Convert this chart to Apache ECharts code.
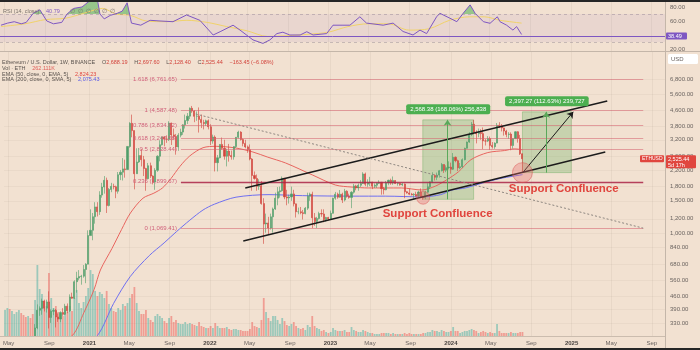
<!DOCTYPE html>
<html>
<head>
<meta charset="utf-8">
<script src="https://cdn.jsdelivr.net/npm/echarts@6.0.0/dist/echarts.min.js"></script>
<style>
  html, body { margin: 0; padding: 0; background: #f2e1d1; }
  #chart { width: 700px; height: 350px; }
</style>
</head>
<body>
<div id="chart"></div>
<script>
// ETH/USD weekly candles (Binance), weeks starting Monday 2020-04-20
const FIRST_WEEK = '2020-04-20';
const FIRST_OPEN = 171;
const closes = [
  194,207,187,199,206,231,245,234,229,225,
  241,240,239,310,386,395,433,396,428,353,
  381,385,355,346,375,367,406,383,455,448,
  550,575,586,589,640,684,975,1041,1232,1391,
  1312,1611,1780,1935,1416,1727,1795,1786,1690,2075,
  2140,2230,2210,2945,3925,3585,2100,2430,2630,2500,
  2240,1975,2320,2040,1895,2190,2610,3010,3310,3230,
  3225,3935,3400,3330,2930,3390,3520,3850,4060,4290,
  4730,4570,4280,4290,4120,3960,3920,4050,3760,3150,
  3310,2410,2560,3020,2880,2610,2780,2630,2590,2940,
  3300,3520,3210,3060,2930,2830,2520,2055,1980,1795,
  1810,1450,1125,1140,1070,1230,1355,1550,1680,1700,
  1985,1575,1555,1575,1635,1445,1310,1310,1295,1280,
  1370,1590,1630,1215,1160,1205,1280,1275,1190,1220,
  1200,1285,1550,1630,1570,1630,1515,1690,1590,1565,
  1670,1805,1760,1820,1860,2095,1845,1880,1895,1800,
  1820,1865,1890,1745,1720,1875,1935,1870,1930,1860,
  1860,1830,1850,1680,1655,1630,1615,1625,1595,1675,
  1580,1560,1670,1785,1900,2055,2010,2065,2180,2355,
  2195,2265,2280,2220,2575,2470,2260,2290,2500,2880,
  3110,3420,3880,3520,3450,3505,3455,3155,3150,3250,
  2985,2935,3070,3830,3780,3705,3565,3420,3435,2980,
  3245,3535,3255,2688.19,2525.44
];
const highs = [
  199,227,215,215,212,245,252,248,236,235,
  246,250,243,325,415,405,446,440,440,488,
  390,395,392,371,381,396,418,420,470,480,
  560,622,635,599,676,692,1040,1350,1290,1475,
  1475,1690,1875,2040,2000,1760,1875,1855,1810,2145,
  2200,2550,2500,2950,3980,4372,3590,2880,2890,2860,
  2620,2260,2400,2410,2060,2250,2640,3180,3330,3335,
  3380,4030,3960,3680,3440,3475,3670,3880,4375,4460,
  4780,4870,4620,4550,4780,4380,4100,4110,4120,3880,
  3410,3380,2650,3030,3290,3200,2860,3040,2800,2950,
  3310,3580,3560,3250,3200,2980,3020,2550,2160,2080,
  1960,1920,1550,1280,1230,1280,1380,1660,1780,1790,
  2030,1990,1720,1620,1790,1720,1450,1380,1390,1340,
  1390,1660,1660,1680,1290,1230,1310,1350,1350,1230,
  1230,1330,1560,1675,1660,1715,1660,1740,1710,1640,
  1690,1850,1830,1860,1940,2140,2130,1960,2020,1900,
  1860,1880,1935,1890,1780,1920,1950,1975,2030,1940,
  1880,1870,1870,1860,1690,1745,1655,1650,1680,1700,
  1750,1600,1700,1865,1910,2140,2085,2130,2200,2400,
  2360,2330,2450,2410,2715,2600,2500,2400,2540,2900,
  3130,3520,3990,4095,3600,3680,3650,3730,3230,3350,
  3330,3110,3100,3940,3980,3890,3720,3620,3520,3510,
  3260,3560,3560,3400,2697.60
];
const lows = [
  165,193,159,185,195,198,225,224,221,215,
  222,235,228,234,305,360,365,380,375,308,
  330,363,312,334,333,360,364,372,378,445,
  444,480,560,530,578,540,683,975,920,1130,
  1236,1260,1560,1640,1290,1400,1670,1730,1550,1640,
  1940,1930,2000,2200,2900,3300,1730,2100,2400,2300,
  2040,1700,1960,1990,1840,1720,2150,2450,2980,2950,
  3080,3150,3000,3200,2660,2790,3300,3400,3680,3890,
  4140,4470,3980,4050,3500,3700,3640,3800,3640,3000,
  3050,2160,2160,2540,2830,2500,2300,2440,2500,2500,
  2890,3250,3170,2950,2880,2720,2480,1700,1950,1700,
  1720,1430,880,1010,990,1050,1010,1340,1420,1560,
  1680,1530,1420,1450,1500,1400,1220,1270,1270,1190,
  1270,1340,1500,1070,1100,1070,1190,1230,1150,1160,
  1180,1190,1280,1520,1540,1560,1460,1490,1560,1540,
  1370,1640,1710,1700,1780,1850,1800,1785,1800,1735,
  1760,1760,1850,1620,1625,1710,1820,1830,1830,1850,
  1810,1810,1800,1550,1640,1610,1605,1530,1580,1570,
  1560,1520,1530,1660,1745,1870,1930,1940,2000,2160,
  2120,2140,2215,2100,2200,2420,2170,2220,2260,2480,
  2870,3080,3350,3420,3060,3300,3200,2850,2980,3110,
  2820,2870,2860,3060,3700,3550,3370,3300,3240,2810,
  2870,3230,3090,2650,2128.40
];
// weekly volume, thousands of ETH
const volumesK = [
  1700,1835,1770,1640,1440,1570,1700,1505,1375,1245,1310,1180,1440,
  2360,4650,3080,2750,2290,1965,4125,2490,
  1835,1965,1570,1440,1310,1700,1570,1965,1640,2490,
  3015,2160,1835,2225,2620,3145,4320,4060,2950,2620,
  2880,2750,2490,2950,2095,1835,1640,1570,1835,1700,
  2095,1965,2160,2490,2750,3210,2160,1640,1440,1440,
  1700,1180,1050,915,1310,1440,1310,1180,980,850,
  1180,1310,915,1050,850,785,785,915,785,850,
  785,720,655,915,655,590,525,525,655,525,
  850,655,525,525,525,590,460,395,460,460,
  395,395,330,330,330,460,915,655,590,525,
  1050,2490,1570,1180,980,1310,1310,1050,785,1180,
  980,720,655,785,915,655,525,460,525,395,
  720,590,1310,655,525,460,330,395,262,195,
  262,525,395,330,330,330,395,262,262,590,
  395,330,262,262,395,330,262,195,195,130,
  130,130,195,195,195,195,130,195,130,130,
  130,130,195,130,195,130,130,130,130,130,
  195,195,262,262,395,330,330,262,395,330,
  262,262,330,590,330,330,195,262,330,330,
  395,460,395,330,195,262,330,262,195,262,
  195,195,785,330,195,195,195,195,262,195,
  195,195,262,262.111
];

// EMA (50) and EMA (200, SMA-smoothed) traces
const ema50Points = [
  ['2020-09-01',240],['2020-11-10',282],['2020-12-15',375],['2021-01-15',500],
  ['2021-02-03',636],['2021-03-10',830],['2021-04-08',1050],['2021-05-05',1290],
  ['2021-06-12',1550],['2021-07-15',1650],['2021-08-10',1760],['2021-09-05',1980],
  ['2021-10-02',2300],['2021-11-01',2620],['2021-12-11',2900],['2022-01-20',2950],
  ['2022-03-20',2890],['2022-05-11',2750],['2022-06-25',2580],['2022-08-18',2400],
  ['2022-11-08',2066],['2023-01-16',1826],['2023-03-07',1780],['2023-04-27',1760],
  ['2023-08-05',1760],['2023-10-05',1716],['2023-11-15',1800],['2023-12-20',1950],
  ['2024-01-24',2150],['2024-03-02',2500],['2024-04-22',2730],['2024-06-12',2800],
  ['2024-07-12',2860],['2024-08-05',2824.23]
];
const ema200Points = [
  ['2020-11-20',230],['2021-01-25',282],['2021-03-15',420],['2021-05-04',585],
  ['2021-07-01',760],['2021-08-15',890],['2021-09-21',1022],['2021-11-01',1180],
  ['2021-12-11',1339],['2022-01-15',1440],['2022-03-21',1570],['2022-06-29',1620],
  ['2022-10-08',1600],['2023-03-07',1590],['2023-06-16',1590],['2023-10-07',1575],
  ['2023-12-01',1620],['2024-01-05',1716],['2024-02-14',1760],['2024-04-01',1860],
  ['2024-05-29',1978],['2024-08-05',2075.43]
];

// RSI (14) and its moving average
const rsiPoints = [
  ['2020-04-20',54],['2020-05-10',57],['2020-05-30',59],['2020-06-20',56],['2020-07-05',58],
  ['2020-07-26',71],['2020-08-15',76],['2020-09-05',60],['2020-09-25',56],['2020-10-20',58],
  ['2020-11-05',70],['2020-11-25',78],['2020-12-20',80],['2021-01-10',88],['2021-02-05',89],
  ['2021-02-12',70],['2021-02-25',63],['2021-03-15',68],['2021-04-05',71],['2021-04-20',74],
  ['2021-05-05',86],['2021-05-18',57],['2021-06-15',54],['2021-07-13',61],['2021-08-12',60],
  ['2021-09-20',59],['2021-10-31',68.6],['2021-12-10',61],['2022-01-19',40],['2022-02-09',44.7],
  ['2022-03-20',54],['2022-04-10',47],['2022-05-19',33],['2022-06-18',28],['2022-07-09',33],
  ['2022-07-30',42],['2022-08-17',44],['2022-09-07',40],['2022-10-08',40],['2022-10-28',44.7],
  ['2022-11-16',40],['2022-12-27',42],['2023-01-15',54],['2023-02-14',54],['2023-03-07',54],
  ['2023-04-06',66],['2023-04-26',57],['2023-06-15',54],['2023-07-15',57],['2023-08-14',45],
  ['2023-09-13',40],['2023-10-04',47],['2023-10-24',42],['2023-11-23',66],['2023-12-03',71],
  ['2024-01-02',64],['2024-01-23',59],['2024-02-11',71],['2024-03-03',83],['2024-03-18',71],
  ['2024-04-12',59],['2024-05-02',56.7],['2024-05-24',66],['2024-06-01',59],['2024-06-21',54],
  ['2024-07-10',47],['2024-07-21',52],['2024-08-05',40.79]
];
const rsiMaPoints = [
  ['2020-04-20',52],['2020-07-01',56],['2020-09-01',62],['2020-11-01',64],['2021-01-01',72],
  ['2021-02-20',78],['2021-04-01',70],['2021-05-15',68],['2021-07-01',60],['2021-09-01',59],
  ['2021-11-01',61],['2022-01-01',58],['2022-03-01',52],['2022-05-01',46],['2022-07-01',38],
  ['2022-09-01',39],['2022-11-01',41],['2023-01-01',44],['2023-03-01',52],['2023-05-01',56],
  ['2023-07-01',56],['2023-09-01',47],['2023-11-01',49],['2024-01-01',61],['2024-03-01',66],
  ['2024-04-15',66],['2024-06-01',61],['2024-08-05',57]
];
const rsiMarker = 38.49;

// axis ticks
const priceTicks = [330,390,460,560,680,840,1000,1200,1500,1800,2200,2600,3200,3800,4600,5600,6800];
const rsiTicks = [20,40,60,80];
const timeTicks = [
  '2020-05-01','2020-09-01','2021-01-01','2021-05-01','2021-09-01','2022-01-01','2022-05-01',
  '2022-09-01','2023-01-01','2023-05-01','2023-09-01','2024-01-01','2024-05-01','2024-09-01',
  '2025-01-01','2025-05-01','2025-09-01'
];

// Fibonacci retracement levels: [ratio, price]
const fibLevels = [[1.618,6761.65],[1,4587.48],[0.786,3834.62],[0.618,3243.58],
                   [0.5,2828.44],[0.382,2413.31],[0.236,1899.67],[0,1069.41]];
const fibSpan = ['2021-10-05','2025-08-06'];

// drawn trend lines: [[date, price], [date, price]]
const channelUpper = [['2022-04-18',1759],['2025-04-19',5175]];
const channelLower = [['2022-04-12',911],['2025-04-13',2748]];
const downTrend = [['2021-11-19',4405],['2025-08-06',1069]];
const projection = [['2024-08-06',2128.4],['2025-01-06',4525.67]];

// measured ranges: [startDate, endDate, low, high, label, arrow date]
const ranges = [
  ['2023-10-08','2024-03-10',1528.25,4096.63,'2,568.38 (168.06%) 256,838','2023-12-22'],
  ['2024-08-05','2024-12-31',2128.40,4525.67,'2,397.27 (112.63%) 239,727','2024-10-16']
];
const supportSpots = [['2023-10-09',1560,13],['2024-08-05',2128.4,20]];
const supportLabels = [['2023-11-22',1274],['2024-12-08',1737]];

const lastClose = 2525.44;

// ---------------------------------------------------------------
const DAY = 86400000;
const t = s => { const p = s.split('-').map(Number); return Date.UTC(p[0], p[1] - 1, p[2]); };
const fmt = v => v.toLocaleString('en-US', { minimumFractionDigits: 2, maximumFractionDigits: 2 });
const FONT = 'Liberation Sans, Arial, sans-serif';
const UP = '#4f9d69', DOWN = '#d2433b';
const BG = '#f2e1d1';

const t0 = t(FIRST_WEEK);
const weekTimes = closes.map((_, i) => t0 + i * 7 * DAY);
const opens = closes.map((c, i) => (i ? closes[i - 1] : FIRST_OPEN));
const candleData = closes.map((c, i) => [weekTimes[i], opens[i], c, lows[i], highs[i]]);
const volumeData = volumesK.map((v, i) => ({
  value: [weekTimes[i], v],
  itemStyle: { color: closes[i] >= opens[i] ? 'rgba(38,166,154,0.42)' : 'rgba(239,83,80,0.48)' }
}));
const pts = arr => arr.map(p => [t(p[0]), p[1]]);

const X_MIN = t('2020-04-17'), X_MAX = t('2025-10-11');
const monthNames = ['Jan','Feb','Mar','Apr','May','Jun','Jul','Aug','Sep','Oct','Nov','Dec'];
const timeTickValues = timeTicks.map(t);

const fibLines = fibLevels.map(([r, p]) => [
  {
    coord: [t(fibSpan[0]), p],
    lineStyle: {
      color: r === 0.236 ? 'rgba(170,35,70,0.85)' : 'rgba(214,98,112,0.55)',
      width: r === 0.236 ? 1.3 : 1.1,
      opacity: r === 0.382 ? 0 : 1,
      type: 'solid'
    },
    label: {
      show: true, position: 'start', distance: 4,
      formatter: r + ' (' + fmt(p) + ')',
      color: '#d0607a', fontSize: 6, fontFamily: FONT
    }
  },
  { coord: [t(fibSpan[1]), p] }
]);
const segment = (seg, style, endSymbol) => [
  { coord: [t(seg[0][0]), seg[0][1]], lineStyle: style, label: { show: false }, symbol: 'none' },
  { coord: [t(seg[1][0]), seg[1][1]], symbol: endSymbol || 'none', symbolSize: 6 }
];
const drawnLines = [
  ...fibLines,
  segment(channelUpper, { color: '#1b1b1b', width: 1.4, type: 'solid' }),
  segment(channelLower, { color: '#1b1b1b', width: 1.4, type: 'solid' }),
  segment(downTrend, { color: '#8d8680', width: 1, type: [2, 2] }),
  segment(projection, { color: '#1b1b1b', width: 1, type: 'solid' }, 'arrow'),
  ...ranges.map(r => segment([[r[5], r[2]], [r[5], r[3]]], { color: '#5aa85a', width: 1, type: 'solid' }, 'arrow'))
];
const rangeAreas = ranges.map(r => [
  { coord: [t(r[0]), r[2]], itemStyle: { color: 'rgba(110,180,100,0.32)', borderColor: 'rgba(90,165,80,0.45)', borderWidth: 0.8 } },
  { coord: [t(r[1]), r[3]] }
]);
const markers = [
  ...supportSpots.map(s => ({
    coord: [t(s[0]), s[1]], symbol: 'circle', symbolSize: s[2],
    itemStyle: { color: 'rgba(232,110,110,0.35)', borderColor: 'rgba(220,80,80,0.6)', borderWidth: 0.8 },
    label: { show: false }
  })),
  ...supportLabels.map(s => ({
    coord: [t(s[0]), s[1]], symbolSize: 0,
    label: { show: true, position: 'inside', formatter: 'Support Confluence', color: '#e0453e', fontSize: 11.5, fontWeight: 'bold', fontFamily: FONT }
  })),
  ...ranges.map(r => {
    const mid = (t(r[0]) + t(r[1])) / 2;
    return {
      coord: [mid, r[3] * 1.14], symbolSize: 0,
      label: { show: true, position: 'inside', formatter: r[4], color: '#ffffff', fontSize: 6, fontFamily: FONT,
               backgroundColor: '#4caf50', padding: [2, 4], borderRadius: 2 }
    };
  })
];

const chart = echarts.init(document.getElementById('chart'), null, { renderer: 'canvas' });

const dateLabel = v => {
  const d = new Date(v);
  const m = d.getUTCMonth();
  return m === 0 ? '{y|' + d.getUTCFullYear() + '}' : monthNames[m];
};

const option = {
  backgroundColor: BG,
  animation: false,
  textStyle: { fontFamily: FONT },
  grid: [
    { left: 0, right: 35, top: 0, height: 51 },
    { left: 0, right: 35, top: 52, height: 284 }
  ],
  xAxis: [
    {
      gridIndex: 0, type: 'value', min: X_MIN, max: X_MAX,
      axisLabel: { show: false }, axisLine: { show: false },
      axisTick: { show: false, customValues: timeTickValues },
      splitLine: { show: true, lineStyle: { color: 'rgba(120,100,90,0.08)', width: 1 } }
    },
    {
      gridIndex: 1, type: 'value', min: X_MIN, max: X_MAX, z: 20,
      axisLine: { show: true, onZero: false, lineStyle: { color: '#cbbcae' } },
      axisTick: { show: false, customValues: timeTickValues },
      splitLine: { show: true, lineStyle: { color: 'rgba(120,100,90,0.08)', width: 1 } },
      axisLabel: {
        customValues: timeTickValues, margin: 4, fontSize: 6, color: '#6b6460', fontFamily: FONT,
        formatter: dateLabel,
        rich: { y: { fontWeight: 'bold', fontSize: 6, color: '#4a4440', fontFamily: FONT } }
      }
    }
  ],
  yAxis: [
    {
      gridIndex: 0, type: 'value', min: 17.14, max: 90, position: 'right',
      axisLine: { show: true, lineStyle: { color: '#c4b6a9' } },
      axisTick: { show: false, customValues: rsiTicks },
      splitLine: { show: false },
      axisLabel: { customValues: rsiTicks, margin: 5, fontSize: 6, color: '#6b6460', fontFamily: FONT, formatter: v => v.toFixed(2) }
    },
    {
      gridIndex: 1, type: 'log', logBase: 10, min: 280.4, max: 9509, position: 'right',
      axisLine: { show: true, lineStyle: { color: '#c4b6a9' } },
      axisTick: { show: false, customValues: priceTicks },
      splitLine: { show: true, lineStyle: { color: 'rgba(120,100,90,0.06)' } },
      axisLabel: { customValues: priceTicks, margin: 5, fontSize: 6, color: '#6b6460', fontFamily: FONT, formatter: v => fmt(v) }
    },
    { gridIndex: 1, type: 'value', min: 0, max: 18600, show: false }
  ],
  visualMap: [{
    show: false, type: 'piecewise', seriesIndex: 0, dimension: 1,
    pieces: [
      { gt: 70, lte: 100, color: 'rgba(76,175,80,0.55)' },
      { gte: 0, lte: 70, color: 'rgba(76,175,80,0)' }
    ],
    outOfRange: { color: 'rgba(0,0,0,0)' }
  }],
  series: [
    {
      name: 'RSI overbought', type: 'line', xAxisIndex: 0, yAxisIndex: 0,
      data: pts(rsiPoints), showSymbol: false, silent: true,
      lineStyle: { width: 0 }, areaStyle: { origin: 70, opacity: 1 }
    },
    {
      name: 'RSI', type: 'line', xAxisIndex: 0, yAxisIndex: 0,
      data: pts(rsiPoints), showSymbol: false, silent: true,
      lineStyle: { color: '#7e57c2', width: 1 }, z: 4,
      markArea: {
        silent: true,
        itemStyle: { color: 'rgba(126,87,194,0.08)' },
        data: [[{ yAxis: 30 }, { yAxis: 70 }]]
      },
      markLine: {
        silent: true, symbol: ['none', 'none'], label: { show: false },
        data: [
          { yAxis: 70, lineStyle: { color: 'rgba(120,110,130,0.45)', type: [3, 3], width: 0.8 } },
          { yAxis: 30, lineStyle: { color: 'rgba(120,110,130,0.45)', type: [3, 3], width: 0.8 } },
          { yAxis: rsiMarker, lineStyle: { color: '#7e57c2', type: 'solid', width: 1 } }
        ]
      }
    },
    {
      name: 'RSI MA', type: 'line', xAxisIndex: 0, yAxisIndex: 0,
      data: pts(rsiMaPoints), showSymbol: false, silent: true, smooth: 0.3,
      lineStyle: { color: '#f0d26a', width: 1 }, z: 3
    },
    {
      name: 'Volume', type: 'bar', xAxisIndex: 1, yAxisIndex: 2,
      data: volumeData, barWidth: 1.8, silent: true, z: 1
    },
    {
      name: 'EMA 200', type: 'line', xAxisIndex: 1, yAxisIndex: 1,
      data: pts(ema200Points), showSymbol: false, silent: true, smooth: 0.3,
      lineStyle: { color: '#6f6ff0', width: 1 }, z: 3
    },
    {
      name: 'EMA 50', type: 'line', xAxisIndex: 1, yAxisIndex: 1,
      data: pts(ema50Points), showSymbol: false, silent: true, smooth: 0.3,
      lineStyle: { color: '#e8655f', width: 1 }, z: 3
    },
    {
      name: 'ETHUSD', type: 'candlestick', xAxisIndex: 1, yAxisIndex: 1,
      data: candleData, encode: { x: 0, y: [1, 2, 3, 4] }, barWidth: 1.6, clip: true, silent: true, z: 4,
      itemStyle: { color: UP, color0: DOWN, borderColor: UP, borderColor0: DOWN, borderWidth: 0.6 }
    },
    {
      name: 'Drawings', type: 'line', xAxisIndex: 1, yAxisIndex: 1,
      data: [], silent: true, z: 6,
      markArea: { silent: true, data: rangeAreas },
      markLine: { silent: true, symbol: ['none', 'none'], animation: false, data: drawnLines },
      markPoint: { silent: true, data: markers }
    }
  ],
  graphic: [
    // time-scale strip below the price pane (keeps out-of-range wicks off the labels)
    { type: 'rect', shape: { x: 0, y: 336.5, width: 665, height: 12 }, style: { fill: BG }, z: 15 },
    { type: 'rect', shape: { x: 0, y: 0, width: 700, height: 2 }, style: { fill: '#262626' }, z: 100 },
    { type: 'rect', shape: { x: 0, y: 348, width: 700, height: 2 }, style: { fill: '#262626' }, z: 100 },
    { type: 'line', shape: { x1: 0, y1: 51.5, x2: 700, y2: 51.5 }, style: { stroke: '#c4b6a9', lineWidth: 1 }, z: 50 },
    { type: 'line', shape: { x1: 0, y1: 336.5, x2: 665, y2: 336.5 }, style: { stroke: '#cbbcae', lineWidth: 1 }, z: 50 },
    { type: 'line', shape: { x1: 665.5, y1: 0, x2: 665.5, y2: 348 }, style: { stroke: '#c4b6a9', lineWidth: 1 }, z: 50 },
    {
      type: 'text', x: 3, y: 5, z: 60,
      style: {
        text: '{g|RSI (14, close)}  {p|40.79}   {g|∅  ∅  ∅  ∅  ∅  ∅}',
        rich: { g: { fill: '#7a726c', fontSize: 5.5, fontFamily: FONT }, p: { fill: '#7e57c2', fontSize: 5.5, fontFamily: FONT } }
      }
    },
    {
      type: 'text', x: 2, y: 56, z: 60,
      style: {
        text: '{g|Ethereum / U.S. Dollar, 1W, BINANCE}  {g|O}{r|2,688.19}  {g|H}{r|2,697.60}  {g|L}{r|2,128.40}  {g|C}{r|2,525.44}  {r|−163.45 (−6.08%)}',
        rich: { g: { fill: '#5a534e', fontSize: 5.5, fontFamily: FONT }, r: { fill: '#d2433b', fontSize: 5.5, fontFamily: FONT } }
      }
    },
    {
      type: 'text', x: 2, y: 62, z: 60,
      style: {
        text: '{g|Vol · ETH}  {r|262.111K}',
        rich: { g: { fill: '#5a534e', fontSize: 5.5, fontFamily: FONT }, r: { fill: '#e0605a', fontSize: 5.5, fontFamily: FONT } }
      }
    },
    {
      type: 'text', x: 2, y: 68, z: 60,
      style: {
        text: '{g|EMA (50, close, 0, EMA, 5)}  {r|2,824.23}',
        rich: { g: { fill: '#5a534e', fontSize: 5.5, fontFamily: FONT }, r: { fill: '#e0453e', fontSize: 5.5, fontFamily: FONT } }
      }
    },
    {
      type: 'text', x: 2, y: 73.5, z: 60,
      style: {
        text: '{g|EMA (200, close, 0, SMA, 5)}  {b|2,075.43}',
        rich: { g: { fill: '#5a534e', fontSize: 5.5, fontFamily: FONT }, b: { fill: '#5a5ae6', fontSize: 5.5, fontFamily: FONT } }
      }
    },
    { type: 'rect', shape: { x: 668, y: 54, width: 30, height: 10, r: 1.5 }, style: { fill: '#ffffff' }, z: 60 },
    { type: 'text', x: 671, y: 56, z: 61, style: { text: 'USD', fill: '#6b6460', fontSize: 6, fontFamily: FONT } }
  ]
};
chart.setOption(option);

// value tags on the price and RSI scales
const yPrice = chart.convertToPixel({ yAxisIndex: 1 }, lastClose);
const yRsi = chart.convertToPixel({ yAxisIndex: 0 }, rsiMarker);
chart.setOption({
  graphic: [
    { id: 'symTag', type: 'rect', shape: { x: 640, y: yPrice - 3.5, width: 24, height: 7, r: 1 }, style: { fill: '#e0463e' }, z: 70 },
    { id: 'symText', type: 'text', x: 642, y: yPrice - 2.5, z: 71, style: { text: 'ETHUSD', fill: '#ffffff', fontSize: 5, fontFamily: FONT } },
    { id: 'priceTag', type: 'rect', shape: { x: 666, y: yPrice - 3.5, width: 30, height: 13, r: 1 }, style: { fill: '#e0463e' }, z: 70 },
    { id: 'priceText', type: 'text', x: 668, y: yPrice - 2.5, z: 71, style: { text: fmt(lastClose) + '\n5d 17h', fill: '#ffffff', fontSize: 5.5, lineHeight: 6, fontFamily: FONT } },
    { id: 'rsiTag', type: 'rect', shape: { x: 666, y: yRsi - 3.5, width: 21, height: 7, r: 1 }, style: { fill: '#7e57c2' }, z: 70 },
    { id: 'rsiText', type: 'text', x: 668, y: yRsi - 2.5, z: 71, style: { text: rsiMarker.toFixed(2), fill: '#ffffff', fontSize: 5.5, fontFamily: FONT } }
  ]
});
</script>
</body>
</html>
